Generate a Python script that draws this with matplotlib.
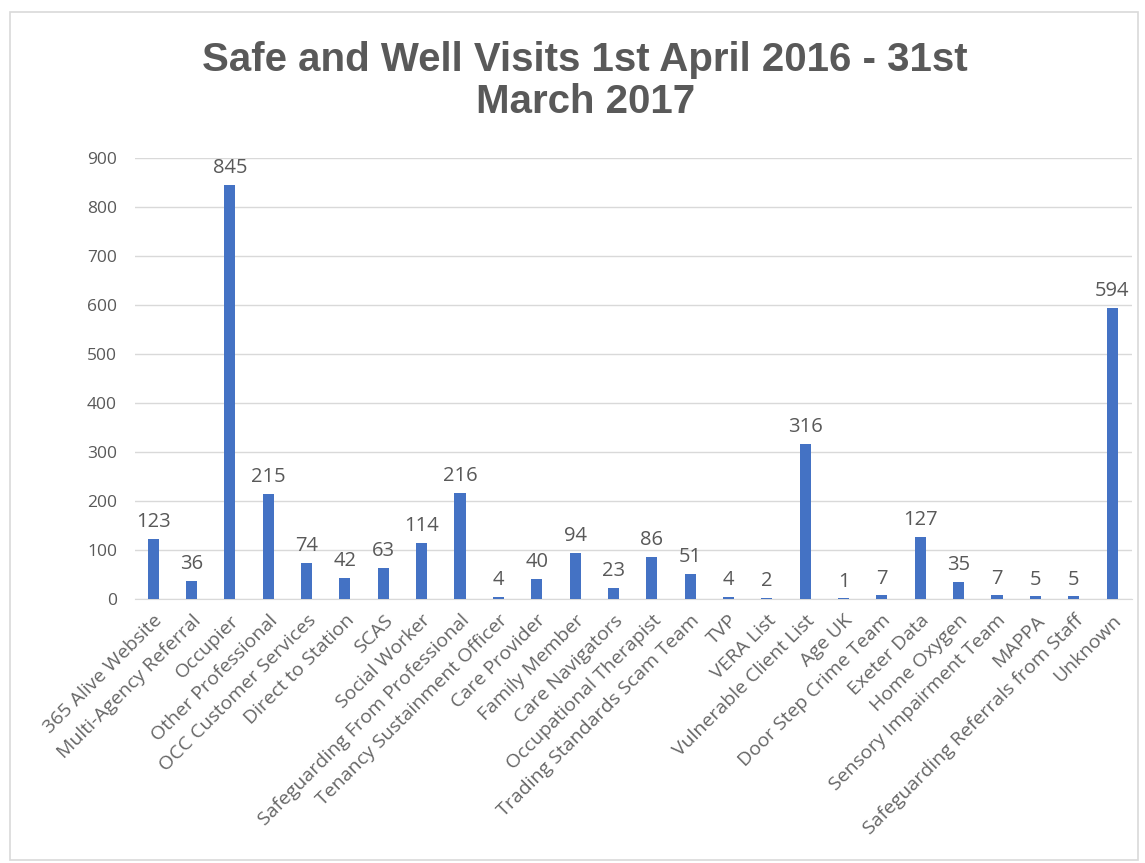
import matplotlib
matplotlib.use("Agg")
import matplotlib.pyplot as plt
from matplotlib.patches import Rectangle

categories = ["365 Alive Website", "Multi-Agency Referral", "Occupier", "Other Professional",
              "OCC Customer Services", "Direct to Station", "SCAS", "Social Worker",
              "Safeguarding From Professional", "Tenancy Sustainment Officer", "Care Provider",
              "Family Member", "Care Navigators", "Occupational Therapist",
              "Trading Standards Scam Team", "TVP", "VERA List", "Vulnerable Client List",
              "Age UK", "Door Step Crime Team", "Exeter Data", "Home Oxygen",
              "Sensory Impairment Team", "MAPPA", "Safeguarding Referrals from Staff", "Unknown"]
values = [123, 36, 845, 215, 74, 42, 63, 114, 216, 4, 40, 94, 23, 86, 51, 4, 2, 316,
          1, 7, 127, 35, 7, 5, 5, 594]
yticks = [0, 100, 200, 300, 400, 500, 600, 700, 800, 900]

txt = "#595959"
fig = plt.figure(figsize=(11.45, 8.63), dpi=100)
fig.patches.append(Rectangle((0.009, 0.004), 0.985, 0.982, transform=fig.transFigure,
                             fill=False, edgecolor="#d9d9d9", linewidth=1.2))
ax = fig.add_axes([0.118, 0.306, 0.871, 0.511])
x = range(len(categories))
ax.bar(x, values, width=0.29, color="#4472C4", zorder=3)
for xi, v in zip(x, values):
    ax.text(xi, v + 14, str(v), ha="center", va="bottom", fontsize=14.5, color=txt,
            family="Open Sans")
ax.set_ylim(0, 900)
ax.set_xlim(-0.47, len(categories) - 0.47)
ax.set_yticks(yticks)
ax.set_yticklabels([str(t) for t in yticks], fontsize=12.5, color=txt, family="Open Sans")
ax.set_xticks(list(x))
ax.set_xticklabels(categories, rotation=45, ha="right", rotation_mode="anchor",
                   fontsize=14, color="#666666", family="Open Sans")
ax.tick_params(axis="y", length=0, pad=13)
ax.tick_params(axis="x", length=0, pad=9)
ax.grid(axis="y", color="#d9d9d9", linewidth=1, zorder=0)
for s in ["top", "right", "left"]:
    ax.spines[s].set_visible(False)
ax.spines["bottom"].set_color("#d9d9d9")
fig.text(0.511, 0.906, "Safe and Well Visits 1st April 2016 - 31st\nMarch 2017",
         ha="center", va="center", fontsize=29, fontweight="bold", color=txt,
         family="Liberation Sans", linespacing=1.15)
fig.savefig("out.png", dpi=100)
